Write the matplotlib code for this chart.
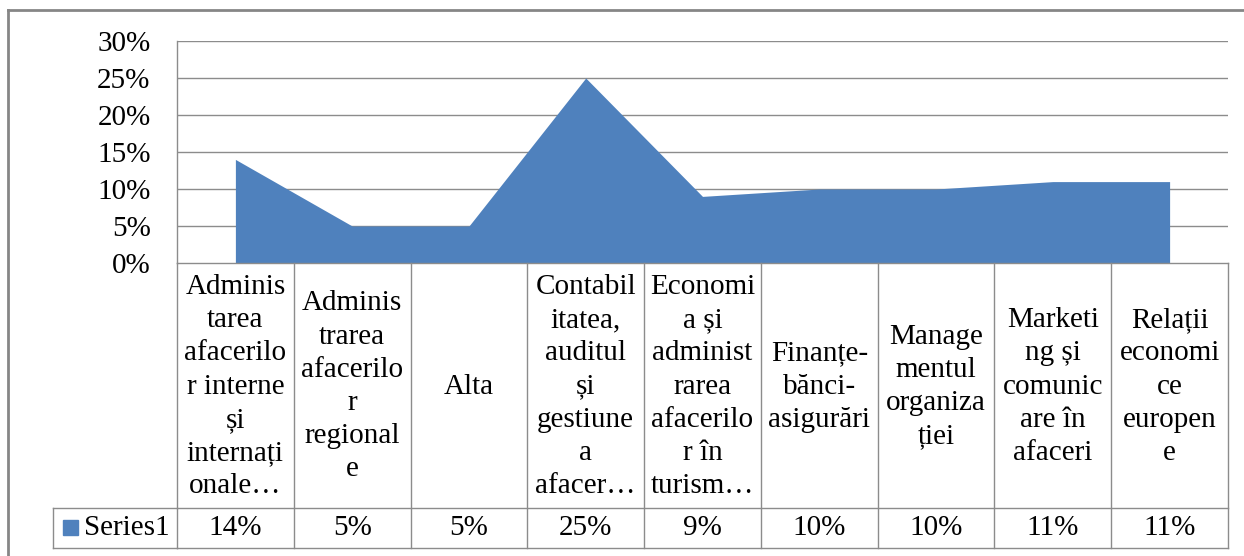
import matplotlib
matplotlib.use('Agg')
import matplotlib.pyplot as plt
import matplotlib.transforms as mtransforms
from matplotlib.patches import Rectangle
from matplotlib.lines import Line2D

plt.rcParams['font.family'] = ['Liberation Serif', 'DejaVu Serif']

# data
categories = [
    'Adminis\ntarea\nafacerilo\nr interne\nși\ninternați\nonale…',
    'Adminis\ntrarea\nafacerilo\nr\nregional\ne',
    'Alta',
    'Contabil\nitatea,\nauditul\nși\ngestiune\na\nafacer…',
    'Economi\na și\nadminist\nrarea\nafacerilo\nr în\nturism…',
    'Finanțe-\nbănci-\nasigurări',
    'Manage\nmentul\norganiza\nției',
    'Marketi\nng și\ncomunic\nare în\nafaceri',
    'Relații\neconomi\nce\neuropen\ne',
]
values = [0.14, 0.05, 0.05, 0.25, 0.09, 0.10, 0.10, 0.11, 0.11]
value_labels = ['14%', '5%', '5%', '25%', '9%', '10%', '10%', '11%', '11%']
series_name = 'Series1'
yticks = [0, 0.05, 0.10, 0.15, 0.20, 0.25, 0.30]

W, H = 1244, 556
fig = plt.figure(figsize=(W / 100, H / 100), dpi=100)
fig.patch.set_facecolor('white')

blue = '#4F81BD'
grid = '#8C8C8C'
fs = 21

# axes: plot area in pixels x 177..1228, y 41..263
ax = fig.add_axes([177 / W, 1 - 263 / H, (1228 - 177) / W, (263 - 41) / H])
n = len(values)
x = list(range(n))
ax.fill_between(x, 0, values, color=blue, linewidth=0, zorder=2)
ax.set_xlim(-0.5, n - 0.5)
ax.set_ylim(0, 0.30)
ax.set_yticks(yticks)
ax.set_yticklabels(['%d%%' % round(v * 100) for v in yticks], fontsize=fs)
ax.set_xticks([])
ax.tick_params(axis='y', length=0, pad=19)
for y in yticks[1:]:
    ax.axhline(y, color=grid, linewidth=1, zorder=1)
for s in ['top', 'right', 'bottom']:
    ax.spines[s].set_visible(False)
ax.spines['left'].set_color(grid)
ax.spines['left'].set_linewidth(1)

# data table below the axes (x in data coords, y in figure coords)
trans = mtransforms.blended_transform_factory(ax.transData, fig.transFigure)
def fy(py):
    return 1 - py / H

row_top, row_mid, row_bot = 263, 508, 548
for i in range(n + 1):
    xb = i - 0.5
    ax.add_line(Line2D([xb, xb], [fy(row_top), fy(row_bot)], transform=trans,
                       color=grid, linewidth=1, clip_on=False))
for py in [row_top, row_mid, row_bot]:
    ax.add_line(Line2D([-0.5, n - 0.5], [fy(py), fy(py)], transform=trans,
                       color=grid, linewidth=1, clip_on=False))

for i in range(n):
    ax.text(i, fy((row_top + row_mid) / 2 + 1), categories[i], transform=trans,
            ha='center', va='center', fontsize=fs, linespacing=1.36,
            multialignment='center', clip_on=False)
    ax.text(i, fy((row_mid + row_bot) / 2), value_labels[i], transform=trans,
            ha='center', va='center', fontsize=fs, clip_on=False)

# legend key cell
fig.add_artist(Line2D([53 / W, 177 / W], [fy(row_mid), fy(row_mid)], color=grid, linewidth=1))
fig.add_artist(Line2D([53 / W, 177 / W], [fy(row_bot), fy(row_bot)], color=grid, linewidth=1))
fig.add_artist(Line2D([53 / W, 53 / W], [fy(row_mid), fy(row_bot)], color=grid, linewidth=1))
fig.add_artist(Rectangle((63 / W, fy(535)), 15 / W, 15 / H, color=blue, transform=fig.transFigure))
fig.text(84 / W, fy((row_mid + row_bot) / 2), series_name, ha='left', va='center', fontsize=fs)

# outer chart border
fig.add_artist(Line2D([8 / W, 8 / W], [0, fy(10)], color='#868686', linewidth=2))
fig.add_artist(Line2D([8 / W, 1], [fy(10), fy(10)], color='#868686', linewidth=2))

fig.savefig('out.png', dpi=100)
